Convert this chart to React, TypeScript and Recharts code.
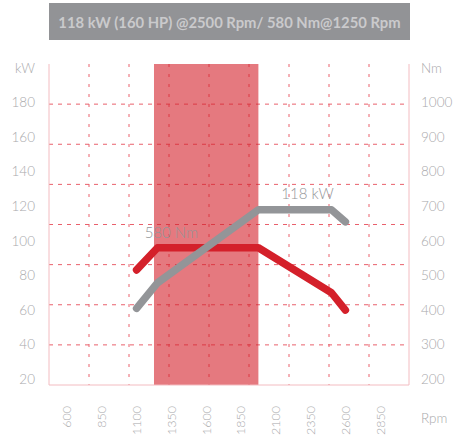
import {
  ComposedChart,
  Line,
  XAxis,
  YAxis,
  CartesianGrid,
  ReferenceArea,
  ReferenceDot,
} from 'recharts'

const rpm = [1100, 1250, 1975, 2500, 2600]
const powerKw = [61, 75.7, 118, 118, 111]
const torqueNm = [516, 580, 580, 450, 400]

const rpmTicks = [600, 850, 1100, 1350, 1600, 1850, 2100, 2350, 2600, 2850]
const kwTicks = [20, 40, 60, 80, 100, 120, 140, 160, 180, 200]
const nmTicks = [200, 300, 400, 500, 600, 700, 800, 900, 1000, 1100]
// dashed grid is an even 9 x 8 lattice, independent of the axis ticks
const gridCols = [1, 2, 3, 4, 5, 6, 7, 8]
const gridRows = [1, 2, 3, 4, 5, 6, 7]
const plateauRpm = [1225, 1975]

const title = '118 kW (160 HP) @2500 Rpm/ 580 Nm@1250 Rpm'

const data = rpm.map((r, i) => ({ rpm: r, power: powerKw[i], torque: torqueNm[i] }))

const RED = '#d4202a'
const GREY = '#939598'
const PINK = '#f3bcc1'
const GRID = '#e9606c'
const TEXT = '#a9a9ab'
const FONT = 'Lato, "Open Sans", sans-serif'

function RpmTick({ x, y, payload }: any) {
  return (
    <text
      x={x}
      y={y}
      transform={`rotate(-90 ${x} ${y})`}
      textAnchor="end"
      dominantBaseline="central"
      fill={TEXT}
      fontSize={12.5}
      fontWeight={300}
      fontFamily={FONT}
    >
      {payload.value}
    </text>
  )
}

function RpmLabel({ viewBox }: any) {
  const x = viewBox.x + viewBox.width + 12
  const y = viewBox.y + viewBox.height / 2 + 6
  return (
    <text
      x={x}
      y={y}
      dominantBaseline="central"
      fill={TEXT}
      fontSize={13.5}
      fontWeight={300}
      fontFamily={FONT}
    >
      Rpm
    </text>
  )
}

const tickStyle = { fill: TEXT, fontSize: 13.5, fontWeight: 300, fontFamily: FONT }

export default function App() {
  return (
    <div
      style={{
        position: 'fixed',
        left: 0,
        top: 0,
        width: 454,
        height: 439,
        overflow: 'hidden',
        background: '#fff',
      }}
    >
      <div
        style={{
          position: 'absolute',
          left: 49,
          top: 3,
          width: 361,
          height: 37,
          background: '#929396',
          color: '#cacacc',
          fontFamily: FONT,
          fontWeight: 700,
          fontSize: 14.8,
          display: 'flex',
          alignItems: 'center',
          justifyContent: 'center',
          whiteSpace: 'nowrap',
        }}
      >
        {title}
      </div>
      <ComposedChart
        width={454}
        height={439}
        data={data}
        margin={{ top: 64, right: 0, bottom: 0, left: 0 }}
        style={{ position: 'absolute', left: 0, top: 0 }}
      >
        <XAxis
          xAxisId="top"
          orientation="top"
          type="number"
          dataKey="rpm"
          domain={[470.7, 3057]}
          allowDataOverflow
          height={0}
          tick={false}
          tickLine={false}
          axisLine={{ stroke: PINK }}
        />
        <XAxis
          xAxisId="rpm"
          dataKey="rpm"
          type="number"
          domain={[470.7, 3057]}
          ticks={rpmTicks}
          interval={0}
          allowDataOverflow
          height={54}
          tickSize={0}
          tickMargin={21}
          tickLine={false}
          axisLine={{ stroke: PINK }}
          tick={<RpmTick />}
          label={<RpmLabel />}
        />
        <YAxis
          yAxisId="kw"
          orientation="left"
          type="number"
          domain={[16.7, 202.2]}
          ticks={kwTicks}
          interval={0}
          allowDataOverflow
          width={49}
          tickSize={0}
          tickMargin={14}
          tickLine={false}
          axisLine={{ stroke: PINK }}
          tick={tickStyle}
          tickFormatter={(v: number) => (v === 200 ? 'kW' : String(v))}
        />
        <YAxis
          yAxisId="nm"
          orientation="right"
          type="number"
          domain={[183.5, 1111]}
          ticks={nmTicks}
          interval={0}
          allowDataOverflow
          width={45}
          tickSize={0}
          tickMargin={12}
          tickLine={false}
          axisLine={{ stroke: PINK }}
          tick={tickStyle}
          tickFormatter={(v: number) => (v === 1100 ? 'Nm' : String(v))}
        />
        <ReferenceArea
          xAxisId="rpm"
          yAxisId="kw"
          x1={plateauRpm[0]}
          x2={plateauRpm[1]}
          fill={RED}
          fillOpacity={0.6}
          stroke="none"
        />
        <CartesianGrid
          xAxisId="rpm"
          yAxisId="kw"
          vertical={false}
          stroke={GRID}
          strokeDasharray="4 5"
          horizontalCoordinatesGenerator={({ offset }: any) =>
            gridRows.map((i) => offset.top + (i * offset.height) / 8)
          }
        />
        <CartesianGrid
          xAxisId="rpm"
          yAxisId="kw"
          horizontal={false}
          stroke={GRID}
          strokeDasharray="3 7"
          verticalCoordinatesGenerator={({ offset }: any) =>
            gridCols.map((i) => offset.left + (i * offset.width) / 9)
          }
        />
        <Line
          xAxisId="rpm"
          yAxisId="nm"
          dataKey="torque"
          type="linear"
          stroke={RED}
          strokeWidth={7.5}
          strokeLinecap="round"
          strokeLinejoin="round"
          dot={false}
          activeDot={false}
          isAnimationActive={false}
        />
        <Line
          xAxisId="rpm"
          yAxisId="kw"
          dataKey="power"
          type="linear"
          stroke={GREY}
          strokeWidth={7.5}
          strokeLinecap="round"
          strokeLinejoin="round"
          dot={false}
          activeDot={false}
          isAnimationActive={false}
        />
        <ReferenceDot
          xAxisId="rpm"
          yAxisId="nm"
          x={1350}
          y={580}
          r={0}
          fill="none"
          stroke="none"
          label={{
            value: '580 Nm',
            position: 'top',
            offset: 10,
            fill: GREY,
            fontSize: 15,
            fontWeight: 300,
            fontFamily: FONT,
          }}
        />
        <ReferenceDot
          xAxisId="rpm"
          yAxisId="kw"
          x={2328}
          y={118}
          r={0}
          fill="none"
          stroke="none"
          label={{
            value: '118 kW',
            position: 'top',
            offset: 11,
            fill: GREY,
            fontSize: 15,
            fontWeight: 300,
            fontFamily: FONT,
          }}
        />
      </ComposedChart>
    </div>
  )
}
